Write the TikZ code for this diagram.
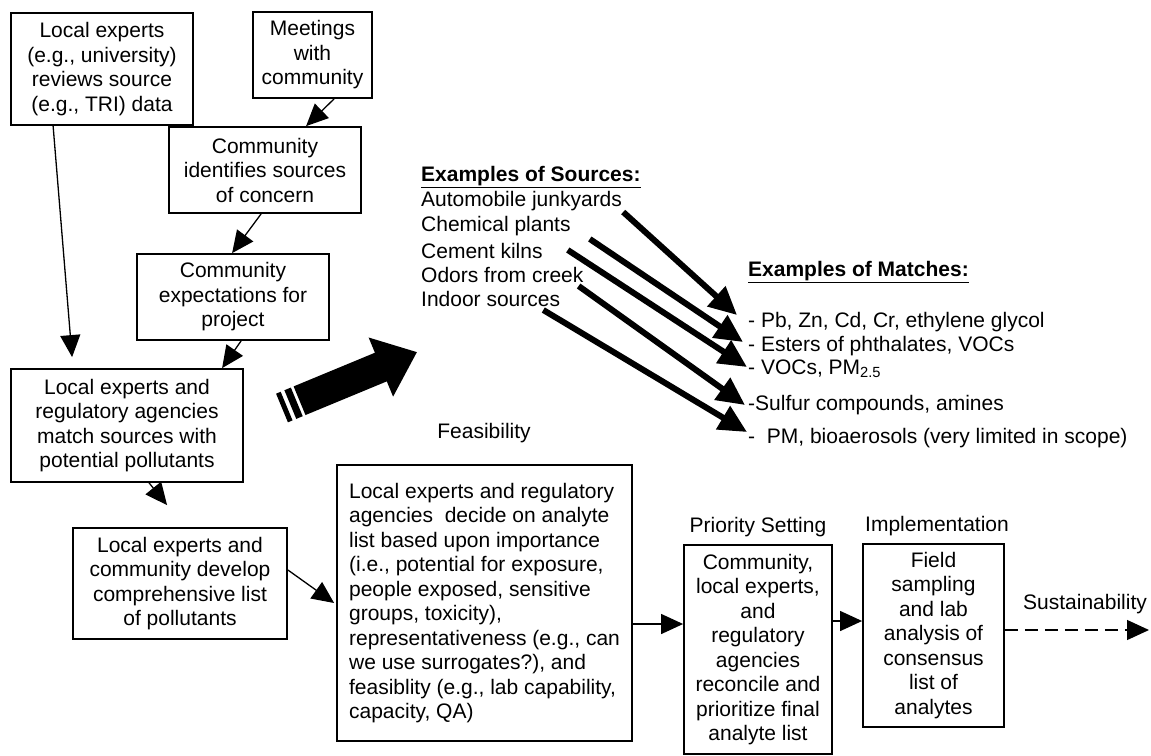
\documentclass[tikz,border=0pt]{standalone}
\usepackage{fontspec}
\setmainfont{Liberation Sans}
\usepackage{tikz}
\usetikzlibrary{calc}
\usetikzlibrary{arrows.meta}
\usetikzlibrary{positioning}
\tikzset{>={Triangle[length=22pt, width=20pt]}}
\tikzstyle{box} = [draw = black, line width = 1.8pt, inner sep = 0pt, align = center]
\tikzstyle{lbl} = [inner sep = 0pt]
\tikzstyle{item} = [inner sep = 0pt, anchor = west]
\tikzstyle{flow} = [->, line width = 1.3pt]
\tikzstyle{srcarr} = [-{Triangle[length=28pt, width=26pt]}, line width = 6pt]

\begin{document}
\begin{tikzpicture}[x=1pt, y=-1pt, font=\fontsize{21}{24.5}\selectfont]
\useasboundingbox (0, 0) rectangle (1151, 755);

% boxes
\node [box, minimum width = 182pt, minimum height = 112pt] (A) at (102, 69) {Local experts\\(e.g., university)\\reviews source\\(e.g., TRI) data};
\node [box, minimum width = 119pt, minimum height = 86pt] (Meet) at (312.5, 55) {Meetings\\with\\community};
\node [box, minimum width = 192pt, minimum height = 86pt] (CI) at (265, 170) {Community\\identifies sources\\of concern};
\node [box, minimum width = 192pt, minimum height = 86pt] (Exp) at (233, 297) {Community\\expectations for\\project};
\node [box, minimum width = 232pt, minimum height = 113pt] (Reg) at (127, 425.5) {Local experts and\\regulatory agencies\\match sources with\\potential pollutants};
\node [box, minimum width = 214pt, minimum height = 111pt] (Dev) at (180, 583.5) {Local experts and\\community develop\\comprehensive list\\of pollutants};
\node [box, align = left, minimum width = 295pt, minimum height = 276pt] (Big) at (484.5, 603) {Local experts and regulatory\\agencies\ \ decide on analyte\\list based upon importance\\(i.e., potential for exposure,\\people exposed, sensitive\\groups, toxicity),\\representativeness (e.g., can\\we use surrogates?), and\\feasiblity (e.g., lab capability,\\capacity, QA)};
\node [box, minimum width = 148pt, minimum height = 209pt] (Prio) at (758, 649.5) {Community,\\local experts,\\and\\regulatory\\agencies\\reconcile and\\prioritize final\\analyte list};
\node [box, minimum width = 141pt, minimum height = 183pt] (Impl) at (933.5, 635.5) {Field\\sampling\\and lab\\analysis of\\consensus\\list of\\analytes};

% stage labels
\node [lbl] (feas) at (484, 433) {Feasibility};
\node [lbl] (prioset) at (758, 527) {Priority Setting};
\node [lbl] (impllbl) at (937, 526) {Implementation};
\node [lbl] (sustlbl) at (1085, 604) {Sustainability};
\coordinate (sust) at (1149, 630);

% sources and matches
\node [item] (srchead) at (421, 177) {\underline{\textbf{Examples of Sources:}}};
\node [item] (s1) at (421, 201) {Automobile junkyards};
\node [item] (s2) at (421, 226) {Chemical plants};
\node [item] (s3) at (421, 251) {Cement kilns};
\node [item] (s4) at (421, 275) {Odors from creek};
\node [item] (s5) at (421, 299) {Indoor sources};
\node [item] (mhead) at (748, 272) {\underline{\textbf{Examples of Matches:}}};
\node [item] (m1) at (748, 322) {- Pb, Zn, Cd, Cr, ethylene glycol};
\node [item] (m2) at (748, 346) {- Esters of phthalates, VOCs};
\node [item] (m3) at (748, 369) {- VOCs, PM\textsubscript{2.5}};
\node [item] (m4) at (748, 405) {-Sulfur compounds, amines};
\node [item] (m5) at (748, 438) {-\ \ PM, bioaerosols (very limited in scope)};

% connectors
\draw [flow] ([xshift=43pt]A.south west) to ([xshift=62pt, yshift=11pt]Reg.north west);
\draw [flow] ([xshift=82pt]Meet.south west) to ([xshift=138pt]CI.north west);
\draw [flow] ([xshift=93pt]CI.south west) to ([xshift=96pt]Exp.north west);
\draw [flow] ([xshift=105pt]Exp.south west) to ([xshift=212pt]Reg.north west);
\draw [flow] ([xshift=139pt]Reg.south west) to ([xshift=95pt, yshift=22pt]Dev.north west);
\draw [flow] ([yshift=13.5pt]Dev.east) to ([xshift=-2pt]Big.west);
\draw [flow] ([yshift=-21pt]Big.east) to ([yshift=25.5pt]Prio.west);
\draw [flow] ([yshift=28.5pt]Prio.east) to ([yshift=14.5pt]Impl.west);
\draw [flow, dash pattern = on 13pt off 7pt] ([yshift=5.5pt]Impl.east) to (sust);

\draw [srcarr] ([xshift=1pt, yshift=-11pt]s1.east) to ([xshift=-11pt, yshift=7pt]m1.west);
\draw [srcarr] ([xshift=19pt, yshift=-13pt]s2.east) to ([xshift=-5pt, yshift=4pt]m2.west);
\draw [srcarr] ([xshift=25pt, yshift=1pt]s3.east) to ([xshift=-1pt, yshift=2pt]m3.west);
\draw [srcarr] ([xshift=-5pt, yshift=-11pt]s4.east) to ([xshift=-3pt]m4.west);
\draw [srcarr] ([xshift=-17pt, yshift=-11pt]s5.east) to ([xshift=-1pt, yshift=6pt]m5.west);

% big block arrow
\begin{scope}[shift = {(282, 408)}, rotate = 22.5]
\fill (0, -15.5) rectangle (5, 15.5);
\fill (9, -15.5) rectangle (16, 15.5);
\fill (19, -15.5) -- (107, -15.5) -- (107, -32) -- (146, 0) -- (107, 32) -- (107, 15.5) -- (19, 15.5) -- cycle;
\end{scope}
\end{tikzpicture}
\end{document}
